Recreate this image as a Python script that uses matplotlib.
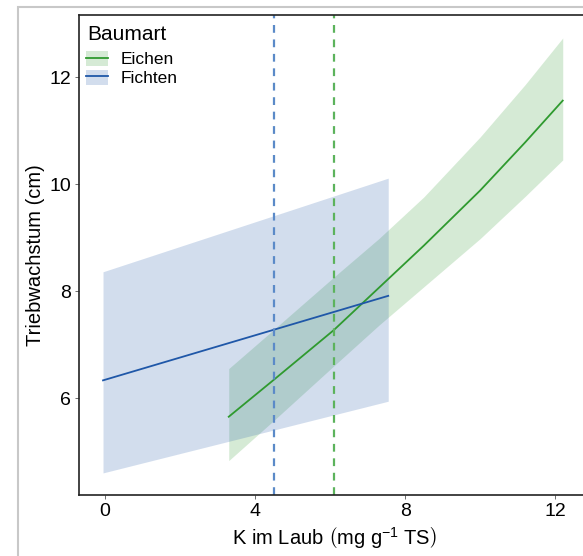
import matplotlib
matplotlib.use("Agg")
import matplotlib.pyplot as plt
from matplotlib.patches import Rectangle, Patch
from matplotlib.lines import Line2D

plt.rcParams['font.family'] = ['Liberation Sans', 'DejaVu Sans']
plt.rcParams['mathtext.fontset'] = 'custom'
plt.rcParams['mathtext.rm'] = 'Liberation Sans'
plt.rcParams['mathtext.it'] = 'Liberation Sans:italic'

# Fichten (spruce): linear fit with CI
fichten_x = [-0.05, 7.55]
fichten_fit = [6.33, 7.91]
fichten_lo = [4.60, 5.94]
fichten_hi = [8.36, 10.11]

# Eichen (oak): curved fit with CI
eichen_x = [3.3, 4.5, 6.1, 7.3, 8.5, 10.0, 11.2, 12.2]
eichen_fit = [5.65, 6.34, 7.27, 8.06, 8.85, 9.88, 10.78, 11.56]
eichen_lo = [4.83, 5.58, 6.60, 7.36, 8.08, 8.98, 9.77, 10.45]
eichen_hi = [6.55, 7.28, 8.26, 8.98, 9.76, 10.88, 11.86, 12.73]

# mean K values (vertical dashed lines)
mean_fichten = 4.51
mean_eichen = 6.11

xticks = [0, 4, 8, 12]
yticks = [6, 8, 10, 12]

green = '#2f9a2f'
blue = '#1f57a8'

W, H = 583, 556
fig = plt.figure(figsize=(W/100, H/100), dpi=100)
ax = fig.add_axes([79/W, 1-495/H, 510/W, 480/H])

ax.fill_between(eichen_x, eichen_lo, eichen_hi, color=green, alpha=0.2, lw=0)
ax.fill_between(fichten_x, fichten_lo, fichten_hi, color=blue, alpha=0.2, lw=0)
ax.plot(eichen_x, eichen_fit, color=green, lw=1.3)
ax.plot(fichten_x, fichten_fit, color=blue, lw=1.3)
ax.axvline(mean_fichten, color='#5b8ac8', lw=1.6, ls=(0, (3.5, 3)))
ax.axvline(mean_eichen, color='#5cb35c', lw=1.6, ls=(0, (3.5, 3)))

ax.set_xlim(-0.69, 12.9)
ax.set_ylim(4.187, 13.16)
ax.set_xticks(xticks)
ax.set_yticks(yticks)
ax.tick_params(axis='both', labelsize=14, length=3, width=0.6, color='#555555', pad=2.5)
for s in ['left', 'bottom', 'top', 'right']:
    ax.spines[s].set_linewidth(1.2)
    ax.spines[s].set_color('#222222')

ax.set_xlabel(r'K im Laub $\left(\mathrm{mg\ g^{-1}\ TS}\right)$', fontsize=14.5, labelpad=4)
ax.set_ylabel('Triebwachstum (cm)', fontsize=14.5, labelpad=3)

handles = [
    (Patch(facecolor=green, alpha=0.2, lw=0), Line2D([], [], color=green, lw=1.3)),
    (Patch(facecolor=blue, alpha=0.2, lw=0), Line2D([], [], color=blue, lw=1.3)),
]
leg = ax.legend(handles, ['Eichen', 'Fichten'], loc='upper left',
                bbox_to_anchor=(86/W, 1-51/H), bbox_transform=fig.transFigure,
                frameon=False, fontsize=12.5, handlelength=1.27, handleheight=0.95,
                handletextpad=0.7, labelspacing=0.12, borderaxespad=0, borderpad=0)
fig.text(87/W, 1-40/H, 'Baumart', fontsize=15, ha='left', va='baseline')

# light gray figure frame
fig.add_artist(Rectangle((18/W, -0.1), 1.2, (1 - 7/H) + 0.1, transform=fig.transFigure,
                         fill=False, edgecolor='#c8c8c8', lw=1.5))

fig.savefig('out.png', dpi=100)
